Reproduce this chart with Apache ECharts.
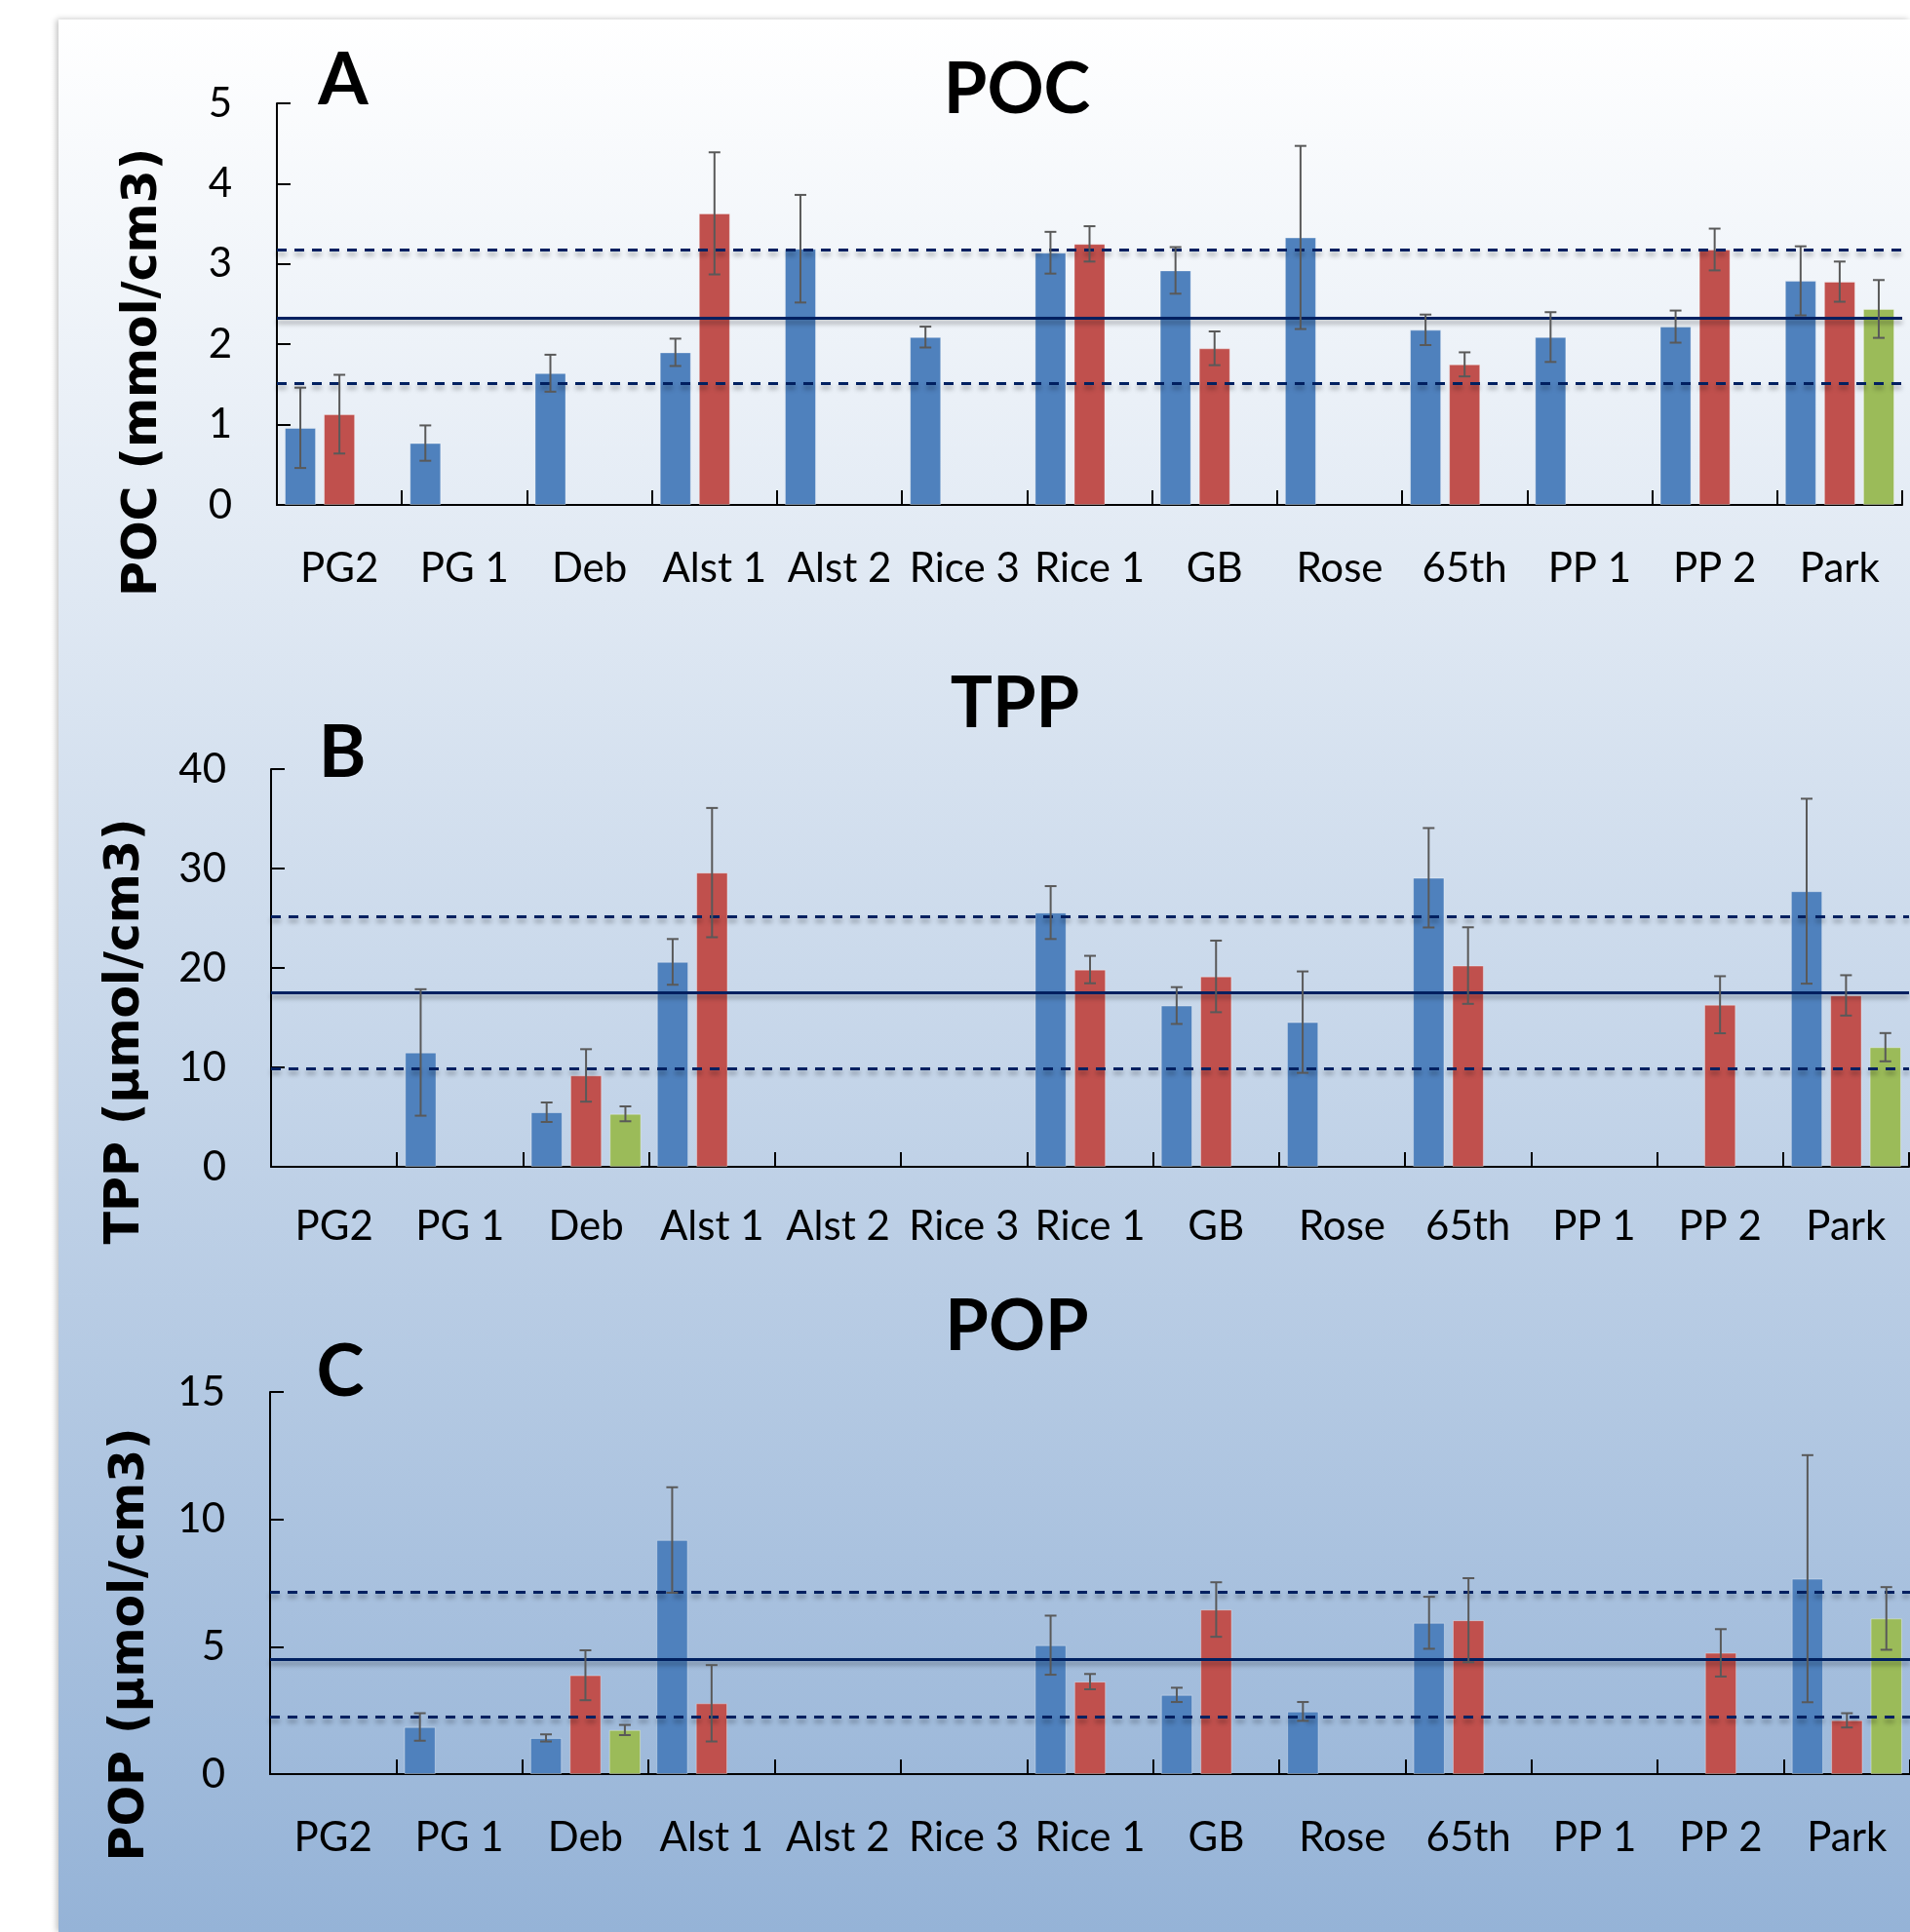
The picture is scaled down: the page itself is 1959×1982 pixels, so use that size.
<!DOCTYPE html>
<html>
<head>
<meta charset="utf-8">
<script src="https://cdn.jsdelivr.net/npm/echarts@6/dist/echarts.min.js"></script>
<style>
html,body{margin:0;padding:0;background:#fff;}
#chart{width:1959px;height:1982px;}
</style>
</head>
<body>
<div id="chart"></div>
<script>
// ---------- DATA ----------
const categories = ['PG2','PG 1','Deb','Alst 1','Alst 2','Rice 3','Rice 1','GB','Rose','65th','PP 1','PP 2','Park'];

// Panel A: POC (mmol/cm3)
const pocBlue     = [0.96, 0.77, 1.64, 1.90, 3.19, 2.09, 3.14, 2.92, 3.33, 2.18, 2.09, 2.22, 2.79];
const pocBlueErr  = [0.50, 0.22, 0.23, 0.17, 0.67, 0.13, 0.26, 0.29, 1.14, 0.19, 0.31, 0.20, 0.43];
const pocRed      = [1.13, null, null, 3.63, null, null, 3.25, 1.95, null, 1.75, null, 3.18, 2.78];
const pocRedErr   = [0.49, null, null, 0.76, null, null, 0.22, 0.21, null, 0.15, null, 0.26, 0.25];
const pocGreen    = [null, null, null, null, null, null, null, null, null, null, null, null, 2.44];
const pocGreenErr = [null, null, null, null, null, null, null, null, null, null, null, null, 0.36];
const pocRef      = [3.18, 2.33, 1.51]; // upper (dashed), mean (solid), lower (dashed)
const pocTicks    = {min: 0, max: 5, interval: 1};

// Panel B: TPP (µmol/cm3)
const tppBlue     = [null, 11.5, 5.49, 20.61, null, null, 25.57, 16.22, 14.55, 29.07, null, null, 27.72];
const tppBlueErr  = [null, 6.36, 0.98, 2.30, null, null, 2.66, 1.85, 5.10, 5.00, null, null, 9.30];
const tppRed      = [null, null, 9.19, 29.59, null, null, 19.84, 19.15, null, 20.24, null, 16.30, 17.24];
const tppRedErr   = [null, null, 2.64, 6.50, null, null, 1.38, 3.60, null, 3.85, null, 2.87, 2.03];
const tppGreen    = [null, null, 5.33, null, null, null, null, null, null, null, null, null, 12.03];
const tppGreenErr = [null, null, 0.75, null, null, null, null, null, null, null, null, null, 1.42];
const tppRef      = [25.2, 17.5, 9.86];
const tppTicks    = {min: 0, max: 40, interval: 10};

// Panel C: POP (µmol/cm3)
const popBlue     = [null, 1.85, 1.42, 9.19, null, null, 5.06, 3.11, 2.46, 5.94, null, null, 7.67];
const popBlueErr  = [null, 0.54, 0.14, 2.07, null, null, 1.16, 0.28, 0.37, 1.02, null, null, 4.85];
const popRed      = [null, null, 3.88, 2.78, null, null, 3.63, 6.46, null, 6.04, null, 4.76, 2.11];
const popRedErr   = [null, null, 0.98, 1.50, null, null, 0.30, 1.07, null, 1.65, null, 0.93, 0.28];
const popGreen    = [null, null, 1.73, null, null, null, null, null, null, null, null, null, 6.11];
const popGreenErr = [null, null, 0.20, null, null, null, null, null, null, null, null, null, 1.23];
const popRef      = [7.16, 4.49, 2.26];
const popTicks    = {min: 0, max: 15, interval: 5};

const panelTitles  = ['POC', 'TPP', 'POP'];
const panelLetters = ['A', 'B', 'C'];
const axisNames    = ['POC (mmol/cm3)', 'TPP (µmol/cm3)', 'POP (µmol/cm3)'];

// ---------- STYLE / LAYOUT ----------
const COLORS = ['#4F81BD', '#C0504D', '#9BBB59'];
const FONT = "Lato, 'Open Sans', sans-serif";
const grids = [
  {left: 284, top: 106, width: 1667, height: 412, labelMargin: 44},
  {left: 278, top: 789, width: 1680, height: 408, labelMargin: 40},
  {left: 277, top: 1428, width: 1682, height: 392, labelMargin: 44}
];
const titlePos  = [[1043, 93], [1041, 723], [1043, 1362]];
const letterPos = [[352, 83], [351, 773], [349, 1408]];
const namePos   = [[147, 382], [129, 1058], [134, 1687]];

const panels = [
  {vals: [pocBlue, pocRed, pocGreen], errs: [pocBlueErr, pocRedErr, pocGreenErr], ref: pocRef, ticks: pocTicks},
  {vals: [tppBlue, tppRed, tppGreen], errs: [tppBlueErr, tppRedErr, tppGreenErr], ref: tppRef, ticks: tppTicks},
  {vals: [popBlue, popRed, popGreen], errs: [popBlueErr, popRedErr, popGreenErr], ref: popRef, ticks: popTicks}
];

function errRender(params, api) {
  const cat = api.value(0), lo = api.value(1), hi = api.value(2), s = api.value(3);
  const band = api.size([1, 0])[0];
  const off = (s - 1) * 0.3125 * band;
  const pLo = api.coord([cat, lo]);
  const pHi = api.coord([cat, hi]);
  const x = pLo[0] + off;
  const hw = 6;
  const style = {stroke: '#595959', lineWidth: 2};
  return {type: 'group', children: [
    {type: 'line', shape: {x1: x, y1: pHi[1], x2: x, y2: pLo[1]}, style: style},
    {type: 'line', shape: {x1: x - hw, y1: pHi[1], x2: x + hw, y2: pHi[1]}, style: style},
    {type: 'line', shape: {x1: x - hw, y1: pLo[1], x2: x + hw, y2: pLo[1]}, style: style}
  ]};
}

const gridOpts = [], xAxes = [], yAxes = [], series = [];
panels.forEach((p, i) => {
  const g = grids[i];
  gridOpts.push({left: g.left, top: g.top, width: g.width, height: g.height, containLabel: false, outerBoundsMode: 'none'});
  xAxes.push({
    type: 'category', gridIndex: i, data: categories, boundaryGap: true,
    axisLine: {lineStyle: {color: '#000', width: 2}},
    axisTick: {show: true, inside: true, length: 15, interval: 0, lineStyle: {color: '#000', width: 2}},
    axisLabel: {interval: 0, margin: g.labelMargin, color: '#000', fontFamily: FONT, fontSize: 42},
    splitLine: {show: false}
  });
  yAxes.push({
    type: 'value', gridIndex: i, min: p.ticks.min, max: p.ticks.max, interval: p.ticks.interval,
    axisLine: {show: true, lineStyle: {color: '#000', width: 2}},
    axisTick: {show: true, inside: true, length: 14, lineStyle: {color: '#000', width: 2}},
    axisLabel: {margin: 46, color: '#000', fontFamily: FONT, fontSize: 42},
    splitLine: {show: false}
  });
  p.vals.forEach((arr, s) => {
    series.push({
      type: 'bar', xAxisIndex: i, yAxisIndex: i, data: arr.map(v => v == null ? '-' : v),
      barWidth: '25%', barGap: '25%', silent: true, z: 2,
      itemStyle: {color: COLORS[s], borderColor: 'rgba(255,255,255,0.35)', borderWidth: 1}
    });
  });
  const errData = [];
  p.vals.forEach((arr, s) => {
    arr.forEach((v, c) => {
      const e = p.errs[s][c];
      if (v != null && e != null) errData.push([c, v - e, v + e, s]);
    });
  });
  const shadow = {shadowColor: 'rgba(0,0,0,0.35)', shadowBlur: 5, shadowOffsetY: 4};
  series.push({
    type: 'custom', xAxisIndex: i, yAxisIndex: i, renderItem: errRender, data: errData,
    encode: {x: 0, y: [1, 2]}, silent: true, z: 5,
    markLine: {
      silent: true, symbol: 'none', label: {show: false}, animation: false,
      data: [
        {yAxis: p.ref[0], lineStyle: Object.assign({color: '#002060', width: 3, type: [10, 8]}, shadow)},
        {yAxis: p.ref[1], lineStyle: Object.assign({color: '#002060', width: 3, type: 'solid'}, shadow)},
        {yAxis: p.ref[2], lineStyle: Object.assign({color: '#002060', width: 3, type: [10, 8]}, shadow)}
      ]
    }
  });
});

const graphics = [
  {type: 'rect', z: -100, silent: true, shape: {x: 60, y: 20, width: 1959 - 60, height: 1982 - 20},
   style: {fill: new echarts.graphic.LinearGradient(0, 0, 0, 1, [
     {offset: 0, color: '#FFFFFF'}, {offset: 1, color: '#95B3D7'}]),
     shadowColor: 'rgba(0,0,0,0.25)', shadowBlur: 6, shadowOffsetX: -2}}
];
for (let i = 0; i < 3; i++) {
  graphics.push({type: 'text', x: titlePos[i][0], y: titlePos[i][1], silent: true, z: 10,
    style: {text: panelTitles[i], font: 'bold 72px ' + FONT, fill: '#000',
      textAlign: 'center', textVerticalAlign: 'middle', align: 'center', verticalAlign: 'middle'}});
  graphics.push({type: 'text', x: letterPos[i][0], y: letterPos[i][1], silent: true, z: 10,
    style: {text: panelLetters[i], font: 'bold 74px ' + FONT, fill: '#000',
      textAlign: 'center', textVerticalAlign: 'middle', align: 'center', verticalAlign: 'middle'}});
  graphics.push({type: 'text', x: namePos[i][0], y: namePos[i][1], rotation: Math.PI / 2, silent: true, z: 10,
    style: {text: axisNames[i], font: "bold 49px 'DejaVu Sans', sans-serif", fill: '#000',
      textAlign: 'center', textVerticalAlign: 'middle', align: 'center', verticalAlign: 'middle'}});
}

const chart = echarts.init(document.getElementById('chart'), null, {renderer: 'canvas'});
chart.setOption({
  animation: false,
  backgroundColor: '#FFFFFF',
  graphic: graphics,
  grid: gridOpts,
  xAxis: xAxes,
  yAxis: yAxes,
  series: series
});
</script>
</body>
</html>
